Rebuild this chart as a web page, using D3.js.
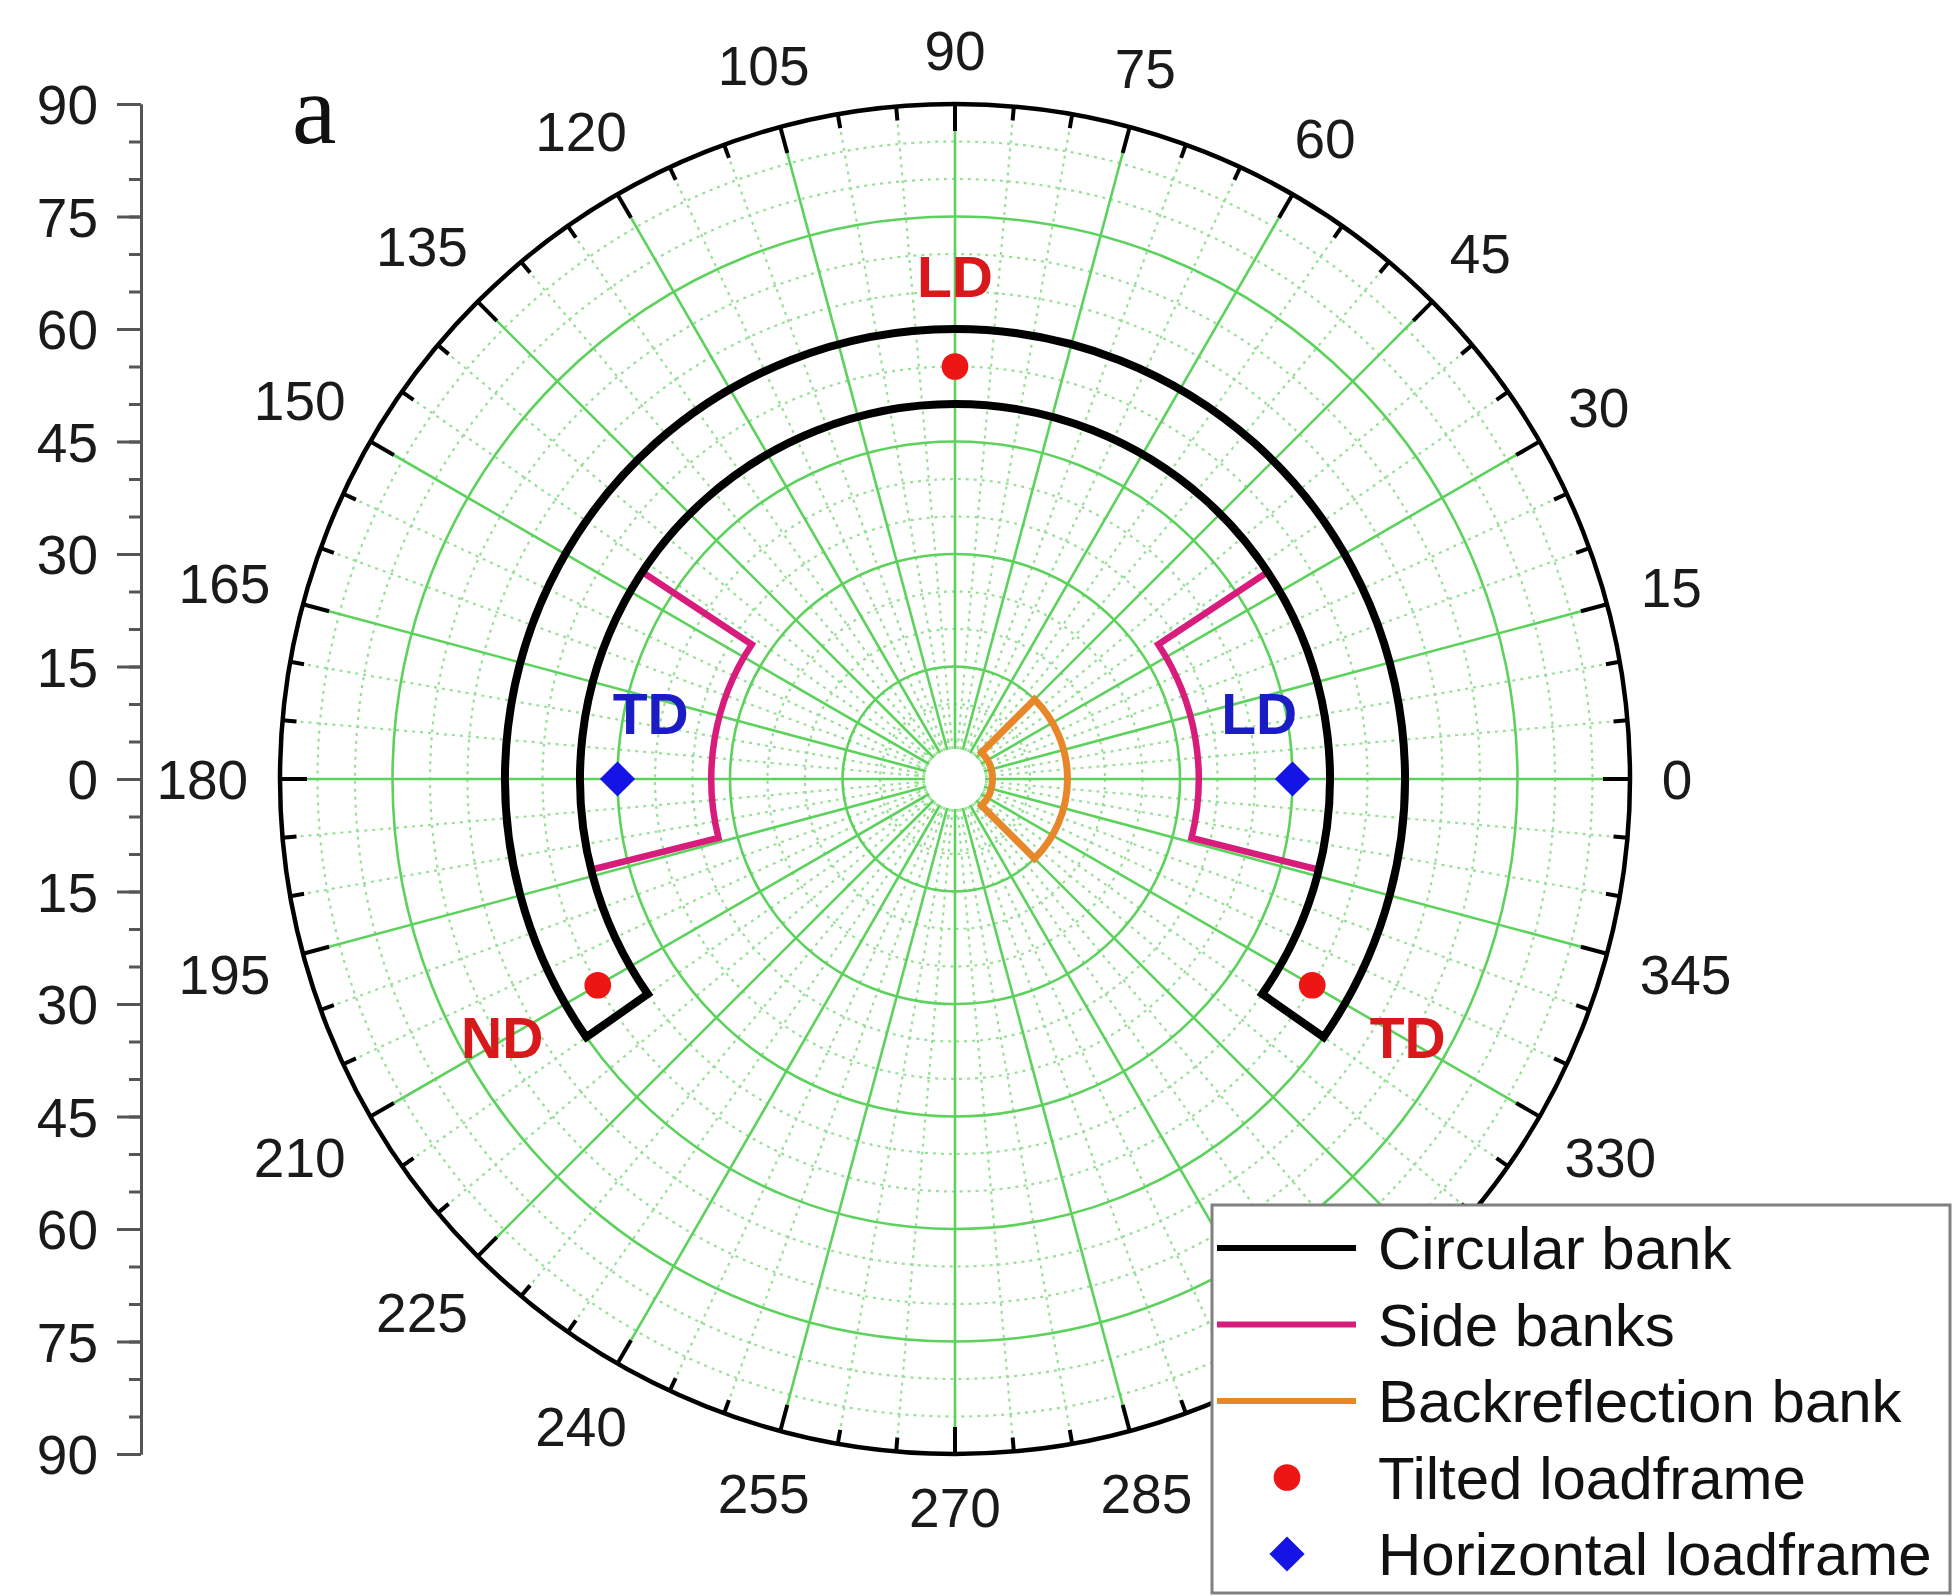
<!DOCTYPE html>
<html>
<head>
<meta charset="utf-8">
<script src="https://cdn.jsdelivr.net/npm/d3@7"></script>
<style>
html, body { margin: 0; padding: 0; background: #ffffff; }
svg { display: block; }
</style>
</head>
<body>
<svg id="chart" width="1957" height="1596"></svg>
<script>
// ---------------- DATA ----------------
const azimuthTicks = d3.range(0, 360, 15);            // labelled azimuth ticks (deg)
const azimuthMinorTicks = d3.range(0, 360, 5);        // minor azimuth ticks (deg)
const tiltGridMajor = [15, 30, 45, 60, 75];           // solid tilt circles
const tiltGridMinor = [5, 10, 20, 25, 35, 40, 50, 55, 65, 70, 80, 85];
const tiltAxisTicks = [-90, -75, -60, -45, -30, -15, 0, 15, 30, 45, 60, 75, 90];
const tiltAxisMinor = d3.range(-90, 91, 5);

const seriesNames = ["Circular bank", "Side banks", "Backreflection bank", "Tilted loadframe", "Horizontal loadframe"];

const circularBankTilt = [50, 60];
const circularBankAzimuth = [-35, 215];
const sideBankTilt = [32.5, 50];
const sideBankAzimuth = [[-14, 33.5], [146.5, 194]];
const backreflectionTilt = [5, 15];
const backreflectionAzimuth = [-45, 45];

const tiltedAzimuth = [90, 210, 330];
const tiltedTilt = [55, 55, 55];
const horizontalAzimuth = [0, 180];
const horizontalTilt = [45, 45];

const directionText = ["LD", "ND", "TD", "TD", "LD"];
const directionAzimuth = [90, 209.7, 330.3, 167.8, 12.2];
const directionTilt = [67, 69.5, 69.5, 41.5, 41.5];
const directionSet = ["tilted", "tilted", "tilted", "horizontal", "horizontal"];

const panelLabel = "a";

// ---------------- LAYOUT / STYLE ----------------
const cx = 955, cy = 779, R = 675;
const FONT = "'Liberation Sans', Arial, Helvetica, sans-serif";
const colors = {
  circular: "#000000",
  side: "#d81c7c",
  back: "#e8862a",
  tilted: "#ee1515",
  horizontal: "#1414e6",
  tiltedText: "#d9181c",
  horizontalText: "#1c1cc4",
  gridMajor: "#5cd25c",
  gridMinor: "#98df98"
};
const legendBox = { x: 1212, y: 1205, w: 738, h: 388 };

const svg = d3.select("#chart");
const rScale = d3.scaleLinear().domain([0, 90]).range([0, R]);
const rad = d => d * Math.PI / 180;
const pt = (az, tilt) => [cx + rScale(tilt) * Math.cos(rad(az)), cy - rScale(tilt) * Math.sin(rad(az))];

const polar = svg.append("g");

// grid: minor (dotted) circles and radials
const holeR = 30;
polar.selectAll("circle.minor").data(tiltGridMinor).join("circle")
  .attr("cx", cx).attr("cy", cy).attr("r", d => rScale(d))
  .attr("fill", "none").attr("stroke", colors.gridMinor).attr("stroke-width", 2.2)
  .attr("stroke-dasharray", "3,5");
polar.selectAll("line.minor").data(azimuthMinorTicks.filter(a => a % 15 !== 0)).join("line")
  .attr("x1", a => cx + holeR * Math.cos(rad(a))).attr("y1", a => cy - holeR * Math.sin(rad(a)))
  .attr("x2", a => pt(a, 90)[0]).attr("y2", a => pt(a, 90)[1])
  .attr("stroke", colors.gridMinor).attr("stroke-width", 2.2).attr("stroke-dasharray", "3,5");

// grid: major (solid)
polar.selectAll("circle.major").data(tiltGridMajor).join("circle")
  .attr("cx", cx).attr("cy", cy).attr("r", d => rScale(d))
  .attr("fill", "none").attr("stroke", colors.gridMajor).attr("stroke-width", 2.6);
polar.selectAll("line.major").data(azimuthTicks).join("line")
  .attr("x1", a => cx + holeR * Math.cos(rad(a))).attr("y1", a => cy - holeR * Math.sin(rad(a)))
  .attr("x2", a => pt(a, 90)[0]).attr("y2", a => pt(a, 90)[1])
  .attr("stroke", colors.gridMajor).attr("stroke-width", 2.6);

// outer circle & ticks
polar.append("circle").attr("cx", cx).attr("cy", cy).attr("r", R)
  .attr("fill", "none").attr("stroke", "#000").attr("stroke-width", 4.5);
polar.selectAll("line.tick").data(azimuthMinorTicks).join("line")
  .attr("x1", a => pt(a, 90)[0]).attr("y1", a => pt(a, 90)[1])
  .attr("x2", a => cx + (R - (a % 15 === 0 ? 27 : 14)) * Math.cos(rad(a)))
  .attr("y2", a => cy - (R - (a % 15 === 0 ? 27 : 14)) * Math.sin(rad(a)))
  .attr("stroke", "#000").attr("stroke-width", 4);

// azimuth labels (labels that sit under the legend box are hidden, as in the original)
const labFont = 55, capH = 0.716 * labFont, gap = 34;
azimuthTicks.forEach(a => {
  const t = polar.append("text").text(a)
    .attr("font-family", FONT).attr("font-size", labFont).attr("fill", "#1a1a1a")
    .attr("text-anchor", "middle");
  const w = t.node().getComputedTextLength() - 0.08 * labFont;
  const ux = Math.cos(rad(a)), uy = Math.sin(rad(a));
  const d = R + gap + Math.abs(ux) * w / 2 + Math.abs(uy) * capH / 2;
  const x = cx + d * ux, y = cy - d * uy;
  t.attr("x", x).attr("y", y + capH / 2);
  const hidden = x - w / 2 > legendBox.x && y - capH / 2 > legendBox.y;
  if (hidden) t.remove();
});

// banks
const arcGen = d3.arc();
function sector(tilt, az) {
  return arcGen({
    innerRadius: rScale(tilt[0]), outerRadius: rScale(tilt[1]),
    startAngle: rad(90 - az[1]), endAngle: rad(90 - az[0])
  });
}
const banks = svg.append("g").attr("transform", `translate(${cx},${cy})`)
  .attr("fill", "none").attr("stroke-linejoin", "miter");
banks.append("path").attr("d", sector(backreflectionTilt, backreflectionAzimuth))
  .attr("stroke", colors.back).attr("stroke-width", 7);
sideBankAzimuth.forEach(az => {
  banks.append("path").attr("d", sector(sideBankTilt, az))
    .attr("stroke", colors.side).attr("stroke-width", 6.5);
});
banks.append("path").attr("d", sector(circularBankTilt, circularBankAzimuth))
  .attr("stroke", colors.circular).attr("stroke-width", 8);

// points
const circleSym = d3.symbol(d3.symbolCircle, 560);
const diamondSym = d3.symbol(d3.symbolSquare, 620);
svg.append("g").selectAll("path").data(d3.zip(tiltedAzimuth, tiltedTilt)).join("path")
  .attr("d", circleSym).attr("fill", colors.tilted)
  .attr("transform", d => `translate(${pt(d[0], d[1])})`);
svg.append("g").selectAll("path").data(d3.zip(horizontalAzimuth, horizontalTilt)).join("path")
  .attr("d", diamondSym).attr("fill", colors.horizontal)
  .attr("transform", d => `translate(${pt(d[0], d[1])}) rotate(45)`);

// direction labels
const dirFont = 57;
directionText.forEach((txt, i) => {
  const p = pt(directionAzimuth[i], directionTilt[i]);
  svg.append("text").text(txt)
    .attr("x", p[0]).attr("y", p[1] + 0.716 * dirFont / 2)
    .attr("text-anchor", "middle").attr("font-family", FONT).attr("font-weight", "bold")
    .attr("font-size", dirFont)
    .attr("fill", directionSet[i] === "tilted" ? colors.tiltedText : colors.horizontalText);
});

// left tilt axis
const yScale = d3.scaleLinear().domain([-90, 90]).range([cy + R, cy - R]);
const axisX = 141;
const gMinor = svg.append("g").attr("transform", `translate(${axisX},0)`)
  .call(d3.axisLeft(yScale).tickValues(tiltAxisMinor).tickSize(12).tickSizeOuter(0).tickFormat(""));
const gAxis = svg.append("g").attr("transform", `translate(${axisX},0)`)
  .call(d3.axisLeft(yScale).tickValues(tiltAxisTicks).tickSize(24).tickSizeOuter(0)
    .tickPadding(19).tickFormat(d => Math.abs(d)));
[gMinor, gAxis].forEach(g => {
  g.selectAll("path.domain").attr("stroke", "#555").attr("stroke-width", 3);
  g.selectAll(".tick line").attr("stroke", "#555").attr("stroke-width", 3);
});
gAxis.selectAll(".tick text").attr("font-family", FONT).attr("font-size", labFont)
  .attr("fill", "#1a1a1a").attr("dy", null).attr("y", capH / 2);

// panel label
svg.append("text").text(panelLabel).attr("x", 292).attr("y", 143)
  .attr("font-family", "'Liberation Serif', 'Times New Roman', serif").attr("font-size", 100)
  .attr("fill", "#111");

// legend
const lg = svg.append("g");
lg.append("rect").attr("x", legendBox.x).attr("y", legendBox.y)
  .attr("width", legendBox.w).attr("height", legendBox.h)
  .attr("fill", "#fff").attr("stroke", "#808080").attr("stroke-width", 3);
const legendColors = [colors.circular, colors.side, colors.back, colors.tilted, colors.horizontal];
seriesNames.forEach((name, i) => {
  const y = 1248 + i * 76.5;
  if (i < 3) {
    lg.append("line").attr("x1", 1217).attr("x2", 1356).attr("y1", y).attr("y2", y)
      .attr("stroke", legendColors[i]).attr("stroke-width", 6);
  } else if (i === 3) {
    lg.append("path").attr("d", circleSym).attr("fill", legendColors[i])
      .attr("transform", `translate(1287,${y})`);
  } else {
    lg.append("path").attr("d", diamondSym).attr("fill", legendColors[i])
      .attr("transform", `translate(1287,${y}) rotate(45)`);
  }
  lg.append("text").text(name).attr("x", 1378).attr("y", y + 21)
    .attr("font-family", FONT).attr("font-size", 60).attr("fill", "#111");
});
</script>
</body>
</html>
